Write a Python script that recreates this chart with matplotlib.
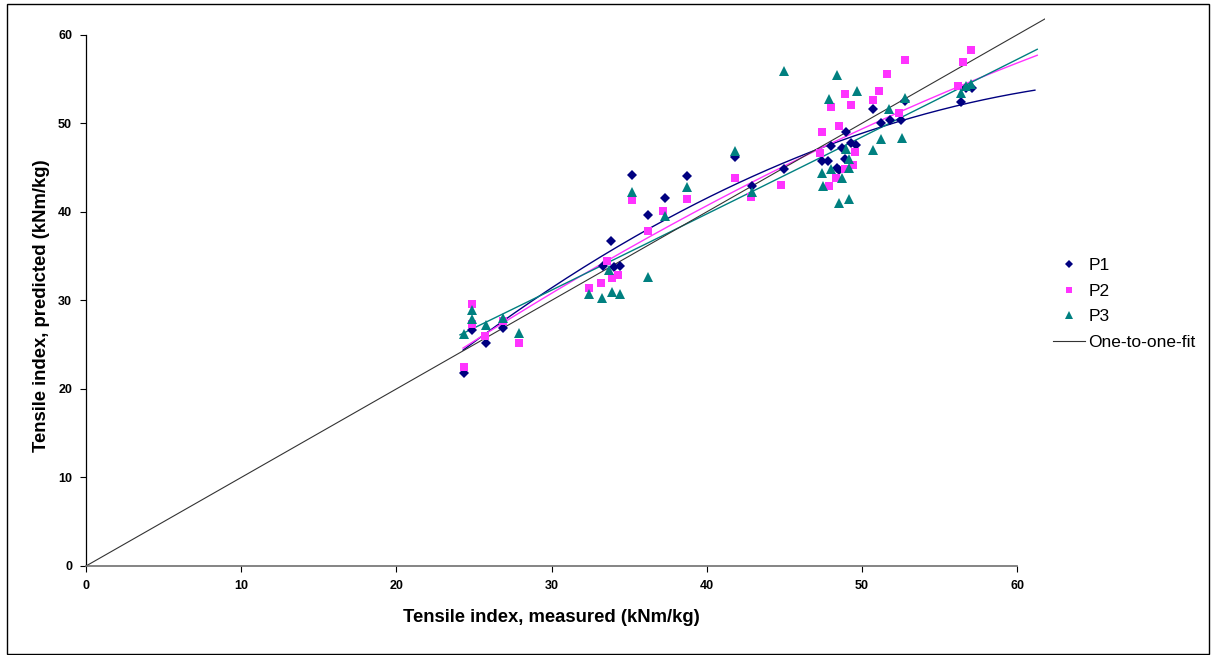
import numpy as np
import matplotlib
matplotlib.use("Agg")
import matplotlib.pyplot as plt
from matplotlib.patches import Rectangle

# ---- data ----
p1_x = [24.35, 24.9, 25.8, 26.9, 33.3, 34.0, 34.4, 33.8, 36.2, 37.3, 35.2, 38.7,
        41.8, 42.9, 45.0, 47.4, 47.8, 48.4, 48.5, 48.9, 48.0, 48.7, 49.3, 49.65,
        49.0, 50.7, 51.2, 51.8, 52.55, 52.8, 56.4, 56.7, 57.1]
p1_y = [21.85, 26.7, 25.2, 26.85, 33.9, 33.8, 33.9, 36.7, 39.7, 41.6, 44.2, 44.0,
        46.25, 42.9, 44.9, 45.7, 45.7, 45.0, 44.7, 45.95, 47.4, 47.2, 47.8, 47.6,
        49.0, 51.6, 50.0, 50.4, 50.4, 52.5, 52.4, 54.0, 54.0]

p2_x = [24.35, 24.9, 24.9, 25.7, 26.85, 27.9, 32.4, 33.2, 33.6, 33.9, 34.3, 35.2,
        36.2, 37.2, 38.7, 41.8, 42.85, 44.8, 47.3, 47.4, 47.9, 48.0, 48.3, 48.5,
        48.9, 48.9, 49.27, 49.4, 49.55, 50.7, 51.1, 51.6, 52.4, 52.8, 56.2, 56.5,
        57.06]
p2_y = [22.45, 29.6, 27.35, 26.0, 27.7, 25.2, 31.4, 32.0, 34.5, 32.5, 32.9, 41.3,
        37.8, 40.1, 41.4, 43.8, 41.7, 43.0, 46.6, 49.0, 42.9, 51.9, 43.8, 49.75,
        53.3, 44.8, 52.1, 45.3, 46.8, 52.6, 53.6, 55.6, 51.2, 57.1, 54.2, 56.9,
        58.3]

p3_x = [24.35, 24.9, 24.9, 25.8, 26.85, 27.9, 32.4, 33.25, 33.9, 34.4, 33.7, 36.2,
        35.2, 37.3, 38.7, 41.8, 42.9, 45.0, 47.5, 47.4, 48.0, 48.4, 47.9, 49.7,
        48.5, 49.2, 48.7, 49.2, 49.2, 48.97, 50.7, 51.2, 51.76, 52.8, 52.56, 56.36,
        56.7, 57.06]
p3_y = [26.2, 28.9, 27.9, 27.2, 28.0, 26.3, 30.7, 30.3, 30.9, 30.7, 33.4, 32.6,
        42.2, 39.5, 42.86, 46.9, 42.2, 55.9, 42.9, 44.4, 44.8, 55.5, 52.8, 53.7,
        41.05, 41.4, 43.8, 45.0, 45.95, 47.1, 47.0, 48.2, 51.6, 52.9, 48.4, 53.4,
        54.2, 54.5]

p1_trend_x = [24.3, 29.25, 31.2, 39.6, 42.1, 44.3, 48.6, 52.9, 57.2, 61.15]
p1_trend_y = [24.5, 30.1, 33.07, 41.2, 43.6, 44.75, 48.0, 50.5, 52.5, 53.7]
p2_trend_x = [24.3, 29.25, 31.2, 39.6, 42.1, 44.3, 48.6, 52.9, 57.2, 61.3]
p2_trend_y = [24.5, 29.7, 32.5, 40.4, 43.05, 44.4, 47.8, 51.5, 54.9, 57.85]
p3_trend_x = [24.1, 29.25, 31.2, 39.6, 42.1, 44.3, 48.6, 52.9, 57.2, 61.3]
p3_trend_y = [26.0, 30.6, 32.1, 39.85, 41.9, 43.2, 46.6, 51.1, 54.9, 58.4]

one_x = [0, 61.8]
one_y = [0, 61.8]

x_ticks = [0, 10, 20, 30, 40, 50, 60]
y_ticks = [0, 10, 20, 30, 40, 50, 60]

series = [
    ("P1", p1_x, p1_y, p1_trend_x, p1_trend_y, "#000080", "D", 5.0),
    ("P2", p2_x, p2_y, p2_trend_x, p2_trend_y, "#FF33FF", "s", 5.5),
    ("P3", p3_x, p3_y, p3_trend_x, p3_trend_y, "#008080", "^", 6.5),
]

plt.rcParams['font.family'] = ['Liberation Sans', 'DejaVu Sans']

W, H = 1215, 655
fig = plt.figure(figsize=(W / 100, H / 100), dpi=100)
fig.patches.append(Rectangle((6.5 / W, 1.5 / H), 1202 / W, 650 / H,
                             transform=fig.transFigure, fill=False,
                             edgecolor='black', linewidth=1.0, zorder=0))

ax = fig.add_axes([86 / W, (H - 566) / H, (1045 - 86) / W, (566 - 18) / H])
ax.set_xlim(0, 61.8)
ax.set_ylim(0, 61.9)

handles = []
for name, xs, ys, tx, ty, col, mk, ms in series:
    h, = ax.plot(xs, ys, linestyle='none', marker=mk, color=col, markersize=ms,
                 markeredgewidth=0, label=name, zorder=3)
    handles.append(h)
    c = np.polyfit(tx, ty, 2)
    xx = np.linspace(min(tx), max(tx), 200)
    ax.plot(xx, np.polyval(c, xx), color=col, linewidth=1.0, zorder=2)

h1, = ax.plot(one_x, one_y, color='#333333', linewidth=0.8, label='One-to-one-fit', zorder=2)
handles.append(h1)

for s in ['top', 'right']:
    ax.spines[s].set_visible(False)
ax.spines['left'].set_bounds(0, 60)
ax.spines['bottom'].set_bounds(0, 60)
ax.spines['left'].set_color('black')
ax.spines['bottom'].set_color('#707070')
ax.spines['left'].set_linewidth(0.9)
ax.spines['bottom'].set_linewidth(1.2)

ax.set_xticks(x_ticks)
ax.set_yticks(y_ticks)
ax.tick_params(axis='both', direction='out', length=4, width=0.8, labelsize=9, pad=6)
for lab in ax.get_xticklabels() + ax.get_yticklabels():
    lab.set_fontweight('bold')

fig.text(551 / W, 1 - 617 / H, 'Tensile index, measured (kNm/kg)', fontsize=13.3,
         fontweight='bold', ha='center', va='center')
fig.text(41 / W, 1 - 306 / H, 'Tensile index, predicted (kNm/kg)', fontsize=13.3,
         fontweight='bold', ha='center', va='center', rotation=90)

fig.legend(handles=handles, labels=['P1', 'P2', 'P3', 'One-to-one-fit'],
           loc='center left', bbox_to_anchor=(1037 / W, 1 - 304 / H),
           frameon=False, fontsize=12.5, handlelength=1.85, labelspacing=0.6,
           handletextpad=0.2, markerscale=0.85)

fig.savefig('out.png', dpi=100)
